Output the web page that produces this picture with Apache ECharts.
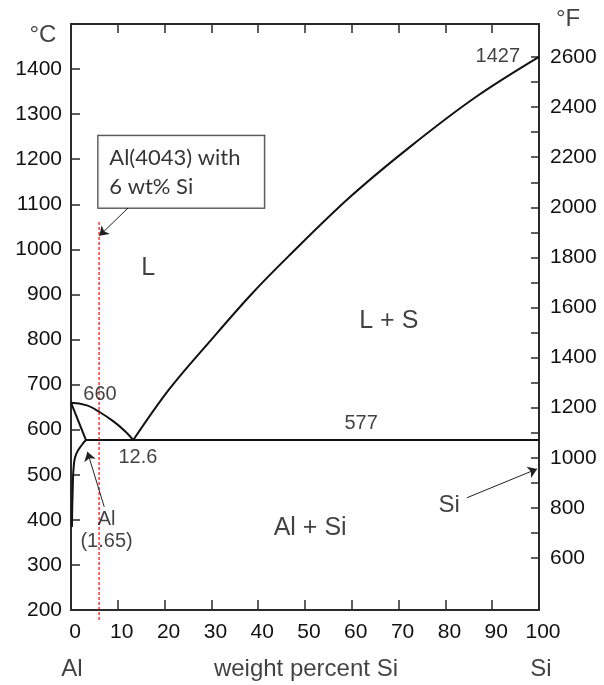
<!DOCTYPE html>
<html>
<head>
<meta charset="utf-8">
<script src="https://cdn.jsdelivr.net/npm/echarts@6/dist/echarts.min.js"></script>
<style>html,body{margin:0;padding:0;background:#fff}#c{width:604px;height:685px}</style>
</head>
<body>
<div id="c"></div>
<script>
// ---- data (wt% Si, °C) ----
const liquidusAl = [[0,660],[3.4,654],[5.8,641],[9,619],[11.5,597],[13.3,577]];
const liquidusSi = [[13.3,577],[21,690],[30,800],[38.5,900],[46.5,985],[59.5,1115],[72.5,1228],[86.5,1338],[100,1427]];
const solidus = [[0,660],[3.2,577]];
const solvus = [[0.2,384],[0.36,466],[0.64,526],[1.2,548],[2.3,566],[3.2,577]];
const eutectic = [[3.2,577],[100,577]];
const alloyLine = [[6,1061],[6,178]];
const leftTickLabels = [200,300,400,500,600,700,800,900,1000,1100,1200,1300,1400];
const rightTicksF = [600,700,800,900,1000,1100,1200,1300,1400,1500,1600,1700,1800,1900,2000,2100,2200,2300,2400,2500,2600];
const rightLabelsF = [600,800,1000,1200,1400,1600,1800,2000,2200,2400,2600];
const regionLabels = [[16.5,958,'L'],[67.9,840,'L + S'],[51.1,382,'Al + Si']];
const valueLabels = [[6.2,679,'660'],[14.3,539,'12.6'],[62,613,'577'],[91.2,1429,'1427'],[7.6,400,'Al'],[7.6,351,'(1.65)']];
const bigLabels = [[80.8,433,'Si'],[-6,1475,'°C'],[106.2,1511,'°F'],[0.2,69,'Al'],[50.2,69,'weight percent Si'],[100.4,68,'Si']];
const boxLabel = [[5.83,1252,'Al(4043) with\n6 wt% Si']];
const arrows = [[[12.2,1092],[6.05,1030]],[[7.1,429],[3.5,551]],[[84.6,449],[99.6,513]]];

const FONT = "'Liberation Sans', Arial, Helvetica, sans-serif";
const INK = '#111';
const AX = '#2a2a2a';

function curve(data, smooth){
  return {type:'line', data:data, smooth:smooth, showSymbol:false, symbol:'none',
    lineStyle:{color:'#111', width:2}, z:3, silent:true};
}
function labelSeries(arr, size){
  return {type:'scatter', clip:false, symbolSize:0, silent:true, z:5,
    data:arr.map(a=>({value:[a[0],a[1]], name:a[2]})),
    label:{show:true, position:'inside', formatter:p=>p.name, fontSize:size, color:INK, fontFamily:FONT}};
}

const axisLine = {show:true, onZero:false, lineStyle:{color:AX, width:2}};
const tickStyle = {color:AX, width:1.5};
const plain = v => String(v);

const option = {
  animation:false,
  backgroundColor:'#fff',
  grid:{left:71, right:65, top:24, bottom:75},
  xAxis:[
    {type:'value', min:0, max:100, interval:10, position:'bottom',
     axisLine:axisLine, axisTick:{inside:true, length:10, lineStyle:tickStyle},
     axisLabel:{margin:12, fontSize:21, color:INK, fontFamily:FONT, padding:[0,0,0,8], formatter:plain},
     splitLine:{show:false}},
    {type:'value', min:0, max:100, interval:10, position:'top',
     axisLine:axisLine, axisTick:{inside:true, length:9, lineStyle:tickStyle},
     axisLabel:{show:false}, splitLine:{show:false}}
  ],
  yAxis:[
    {type:'value', min:200, max:1500, interval:100, position:'left',
     axisLine:axisLine, axisTick:{inside:true, length:9, lineStyle:tickStyle},
     axisLabel:{margin:9, fontSize:21, color:INK, fontFamily:FONT, customValues:leftTickLabels, formatter:plain},
     splitLine:{show:false}},
    {type:'value', min:392, max:2732, position:'right',
     axisLine:axisLine, axisTick:{inside:true, length:8, lineStyle:tickStyle, customValues:rightTicksF},
     axisLabel:{margin:11, fontSize:21, color:INK, fontFamily:FONT, customValues:rightLabelsF, formatter:plain},
     splitLine:{show:false}}
  ],
  series:[
    curve(liquidusAl, true),
    curve(liquidusSi, 0.35),
    curve(solidus, false),
    curve(solvus, true),
    curve(eutectic, false),
    {type:'line', data:alloyLine, clip:false, showSymbol:false, symbol:'none', silent:true, z:4,
     lineStyle:{color:'#ff0000', width:1.2, type:[3,2]}},
    {type:'lines', coordinateSystem:'cartesian2d', xAxisIndex:0, yAxisIndex:0, silent:true, z:6,
     symbol:['none','arrow'], symbolSize:9,
     lineStyle:{color:'#222', width:1, opacity:1},
     data:arrows.map(a=>({coords:a}))},
    labelSeries(regionLabels, 25),
    labelSeries(valueLabels, 20),
    labelSeries(bigLabels, 24),
    {type:'scatter', clip:false, symbolSize:0, silent:true, z:7,
     data:boxLabel.map(a=>({value:[a[0],a[1]], name:a[2]})),
     label:{show:true, position:[0,0], align:'left', verticalAlign:'top', formatter:p=>p.name,
       fontSize:22, lineHeight:29, width:145, color:'#000', fontFamily:"Lato, 'Open Sans', sans-serif",
       backgroundColor:'#fff', borderColor:'#000', borderWidth:1, padding:[8,10,6,11]}}
  ]
};
const chart = echarts.init(document.getElementById('c'), null, {renderer:'canvas'});
chart.setOption(option);
</script>
</body>
</html>
